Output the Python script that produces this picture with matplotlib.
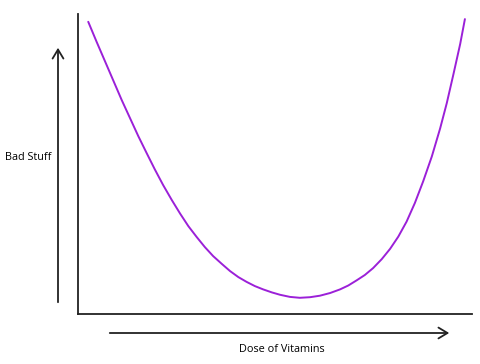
import matplotlib
matplotlib.use("Agg")
import matplotlib.pyplot as plt
import numpy as np

# dose of vitamins vs bad stuff (0-100 scale)
dose = [2.6, 4.7, 6.9, 9.0, 11.1, 13.2, 15.3, 17.4, 19.5, 21.6, 23.8, 25.9,
        28.0, 30.1, 32.2, 34.3, 36.5, 38.6, 40.7, 42.8, 44.9, 47.0, 49.2,
        51.3, 53.8, 56.3, 58.9, 61.4, 64.0, 66.5, 68.6, 70.7, 72.8, 74.9,
        77.1, 79.2, 81.3, 83.4, 85.5, 87.6, 89.8, 91.9, 93.6, 95.3, 97.0, 98.2]
bad = [97.4, 90.8, 84.1, 77.7, 71.3, 65.3, 59.3, 53.7, 48.2, 43.0, 38.0, 33.5,
       29.3, 25.7, 22.3, 19.3, 16.7, 14.3, 12.3, 10.7, 9.3, 8.2, 7.2,
       6.4, 5.7, 5.4, 5.6, 6.1, 7.0, 8.2, 9.5, 11.2, 13.0, 15.3,
       18.3, 21.7, 25.8, 30.8, 37.0, 44.2, 52.5, 61.8, 70.3, 80.0, 90.0, 98.3]
xlabel = "Dose of Vitamins"
ylabel = "Bad Stuff"

fig = plt.figure(figsize=(4.8, 3.64), dpi=100)
ax = fig.add_axes([78/480, 1-314/364, 394/480, 300/364])
ax.plot(dose, bad, color="#9B20D8", lw=1.4, solid_capstyle="round",
        solid_joinstyle="round")
ax.set_xlim(0, 100)
ax.set_ylim(0, 100)
ax.set_xticks([])
ax.set_yticks([])
for s in ["top", "right"]:
    ax.spines[s].set_visible(False)
for s in ["left", "bottom"]:
    ax.spines[s].set_linewidth(1.3)
    ax.spines[s].set_color("#222222")

# the hand drawn arrows outside the axes
fig.add_artist(matplotlib.patches.FancyArrowPatch(
    (58/480, 1-305/364), (58/480, 1-45/364), transform=fig.transFigure,
    arrowstyle="->,head_length=5,head_width=3", lw=1.3, color="#222222",
    mutation_scale=1.3))
fig.add_artist(matplotlib.patches.FancyArrowPatch(
    (107/480, 1-333/364), (452/480, 1-333/364), transform=fig.transFigure,
    arrowstyle="->,head_length=5,head_width=3", lw=1.3, color="#222222",
    mutation_scale=1.3))

fig.text(28/480, 1-158/364, ylabel, ha="center", va="center",
         fontsize=7.8, family="Open Sans")
fig.text(282/480, 1-349/364, xlabel, ha="center", va="center",
         fontsize=7.8, family="Open Sans")

fig.savefig("out.png", dpi=100)
